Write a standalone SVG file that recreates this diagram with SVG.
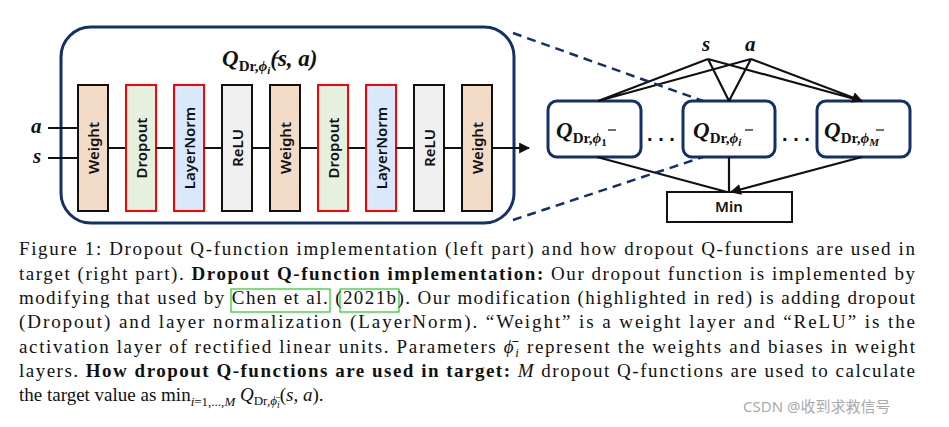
<svg xmlns="http://www.w3.org/2000/svg" width="949" height="427" viewBox="0 0 949 427">
<style>
.w{fill:#f2dcc8;stroke:#111;stroke-width:2}
.d{fill:#e6f0de;stroke:#f00;stroke-width:2}
.l{fill:#dae8fb;stroke:#f00;stroke-width:2}
.r{fill:#f0f0f0;stroke:#111;stroke-width:2}
.lt{font-family:"Noto Sans","Open Sans",sans-serif;font-weight:600;font-size:15px;fill:#111;text-anchor:middle;dominant-baseline:central}
.m{font-family:"Liberation Serif",serif;font-weight:bold;font-style:italic;fill:#111}
.q{fill:#fff;stroke:#14306a;stroke-width:3}
.c{font-family:"Liberation Serif",serif;font-size:19px;fill:#111}
.ln{stroke:#111;stroke-width:2.2;fill:none}
</style>
<defs>
<marker id="ah" viewBox="0 0 10 10" refX="9" refY="5" markerWidth="5" markerHeight="5" orient="auto"><path d="M0,0L10,5L0,10z" fill="#111"/></marker>
</defs>
<rect width="949" height="427" fill="#fff"/>
<g id="big">
<rect x="61" y="27" width="453" height="196" rx="30" fill="#fff" stroke="#14306a" stroke-width="3"/>
<text class="m" x="222" y="66" font-size="23">Q<tspan font-style="normal" font-size="15" dy="5">Dr,</tspan><tspan font-size="15">ϕ</tspan><tspan font-size="11" dy="3">i</tspan><tspan font-size="23" dy="-8">(s, a)</tspan></text>
<line x1="274" y1="58" x2="282" y2="58" stroke="#111" stroke-width="1.2"/>
</g>
<g id="layers">
<g id="n1"><rect class="w" x="78" y="85" width="30" height="126"/><text class="lt" transform="translate(93,148) rotate(-90)">Weight</text></g>
<g id="n2"><rect class="d" x="126" y="85" width="30" height="126"/><text class="lt" transform="translate(141,148) rotate(-90)">Dropout</text></g>
<g id="n3"><rect class="l" x="174" y="85" width="30" height="126"/><text class="lt" transform="translate(189,148) rotate(-90)">LayerNorm</text></g>
<g id="n4"><rect class="r" x="222" y="85" width="30" height="126"/><text class="lt" transform="translate(237,148) rotate(-90)">ReLU</text></g>
<g id="n5"><rect class="w" x="270" y="85" width="30" height="126"/><text class="lt" transform="translate(285,148) rotate(-90)">Weight</text></g>
<g id="n6"><rect class="d" x="318" y="85" width="30" height="126"/><text class="lt" transform="translate(333,148) rotate(-90)">Dropout</text></g>
<g id="n7"><rect class="l" x="366" y="85" width="30" height="126"/><text class="lt" transform="translate(381,148) rotate(-90)">LayerNorm</text></g>
<g id="n8"><rect class="r" x="414" y="85" width="30" height="126"/><text class="lt" transform="translate(429,148) rotate(-90)">ReLU</text></g>
<g id="n9"><rect class="w" x="462" y="85" width="30" height="126"/><text class="lt" transform="translate(477,148) rotate(-90)">Weight</text></g>
</g>
<g id="inputs">
<text class="m" x="31" y="133" font-size="21">a</text>
<text class="m" x="33" y="163" font-size="21">s</text>
<text class="m" x="702" y="51" font-size="21">s</text>
<text class="m" x="745" y="51" font-size="21">a</text>
</g>
<g id="qboxes">
<g id="q1"><rect class="q" x="548" y="101" width="93" height="56" rx="9"/><text class="m" x="556" y="138" font-size="23">Q<tspan font-style="normal" font-size="15" dy="5">Dr,</tspan><tspan font-size="15">ϕ</tspan><tspan font-style="normal" font-size="11" dy="3">1</tspan></text><line x1="608" y1="130" x2="616" y2="130" stroke="#111" stroke-width="1.2"/></g>
<g id="qi"><rect class="q" x="683" y="101" width="92" height="56" rx="9"/><text class="m" x="693" y="138" font-size="23">Q<tspan font-style="normal" font-size="15" dy="5">Dr,</tspan><tspan font-size="15">ϕ</tspan><tspan font-size="11" dy="3">i</tspan></text><line x1="745" y1="130" x2="753" y2="130" stroke="#111" stroke-width="1.2"/></g>
<g id="qm"><rect class="q" x="817" y="101" width="93" height="56" rx="9"/><text class="m" x="824" y="138" font-size="23">Q<tspan font-style="normal" font-size="15" dy="5">Dr,</tspan><tspan font-size="15">ϕ</tspan><tspan font-size="11" dy="3">M</tspan></text><line x1="876" y1="130" x2="884" y2="130" stroke="#111" stroke-width="1.2"/></g>
<text x="661" y="141" font-family="Liberation Sans,sans-serif" font-size="20" font-weight="bold" text-anchor="middle" fill="#111">. . .</text>
<text x="796" y="141" font-family="Liberation Sans,sans-serif" font-size="20" font-weight="bold" text-anchor="middle" fill="#111">. . .</text>
<g id="min"><rect x="667" y="192" width="125" height="30" fill="#fff" stroke="#111" stroke-width="2"/><text x="729" y="212" font-family="Noto Sans,sans-serif" font-weight="600" font-size="15" text-anchor="middle" fill="#111">Min</text></g>
</g>
<g id="connectors">
<path class="ln" marker-end="url(#ah)" d="M48,128H77M48,158H77M108,148H125M156,148H173M204,148H221M252,148H269M300,148H317M348,148H365M396,148H413M444,148H461M492,148H529"/>
<path class="ln" marker-end="url(#ah)" d="M708,59L598,101M751,59L598,101M708,59L729,101M751,59L729,101M708,59L862,101M751,59L862,101"/>
<path class="ln" marker-end="url(#ah)" d="M597,157L727,192M729,157L729,192M862,157L731,192"/>
<path d="M513,33L703,101M513,220L703,157" stroke="#14306a" stroke-width="2.5" stroke-dasharray="9,6" fill="none"/>
</g>
<g id="caption" class="c">
<rect x="231" y="289" width="99" height="23" fill="none" stroke="#2c2" stroke-width="1.2"/>
<rect x="340" y="289" width="59" height="23" fill="none" stroke="#2c2" stroke-width="1.2"/>
<text x="19" y="255" textLength="896" lengthAdjust="spacing">Figure 1: Dropout Q-function implementation (left part) and how dropout Q-functions are used in</text>
<text x="19" y="280" textLength="896" lengthAdjust="spacing">target (right part). <tspan font-weight="bold">Dropout Q-function implementation:</tspan> Our dropout function is implemented by</text>
<text x="19" y="304" textLength="896" lengthAdjust="spacing">modifying that used by Chen et al. (2021b). Our modification (highlighted in red) is adding dropout</text>
<text x="19" y="328" textLength="896" lengthAdjust="spacing">(Dropout) and layer normalization (LayerNorm). “Weight” is a weight layer and “ReLU” is the</text>
<text x="19" y="353" textLength="896" lengthAdjust="spacing">activation layer of rectified linear units. Parameters <tspan font-style="italic">ϕ̄</tspan><tspan font-style="italic" font-size="13" dy="4">i</tspan><tspan dy="-4"> represent the weights and biases in weight</tspan></text>
<text x="19" y="377" textLength="896" lengthAdjust="spacing">layers. <tspan font-weight="bold">How dropout Q-functions are used in target:</tspan> <tspan font-style="italic">M</tspan> dropout Q-functions are used to calculate</text>
<text x="19" y="401">the target value as min<tspan font-size="13" dy="5" font-style="italic">i</tspan><tspan font-size="13">=1,...,</tspan><tspan font-size="13" font-style="italic">M</tspan><tspan dy="-5" font-style="italic"> Q</tspan><tspan font-size="13" dy="4">Dr,</tspan><tspan font-size="13" font-style="italic">ϕ̄</tspan><tspan font-size="10" font-style="italic" dy="3">i</tspan><tspan dy="-7">(</tspan><tspan font-style="italic">s</tspan>, <tspan font-style="italic">a</tspan>).</text>
<text x="743" y="412" font-family="Noto Sans,Noto Sans CJK SC,sans-serif" font-size="15" fill="#aaa">CSDN @收到求救信号</text>
</g>
</svg>
